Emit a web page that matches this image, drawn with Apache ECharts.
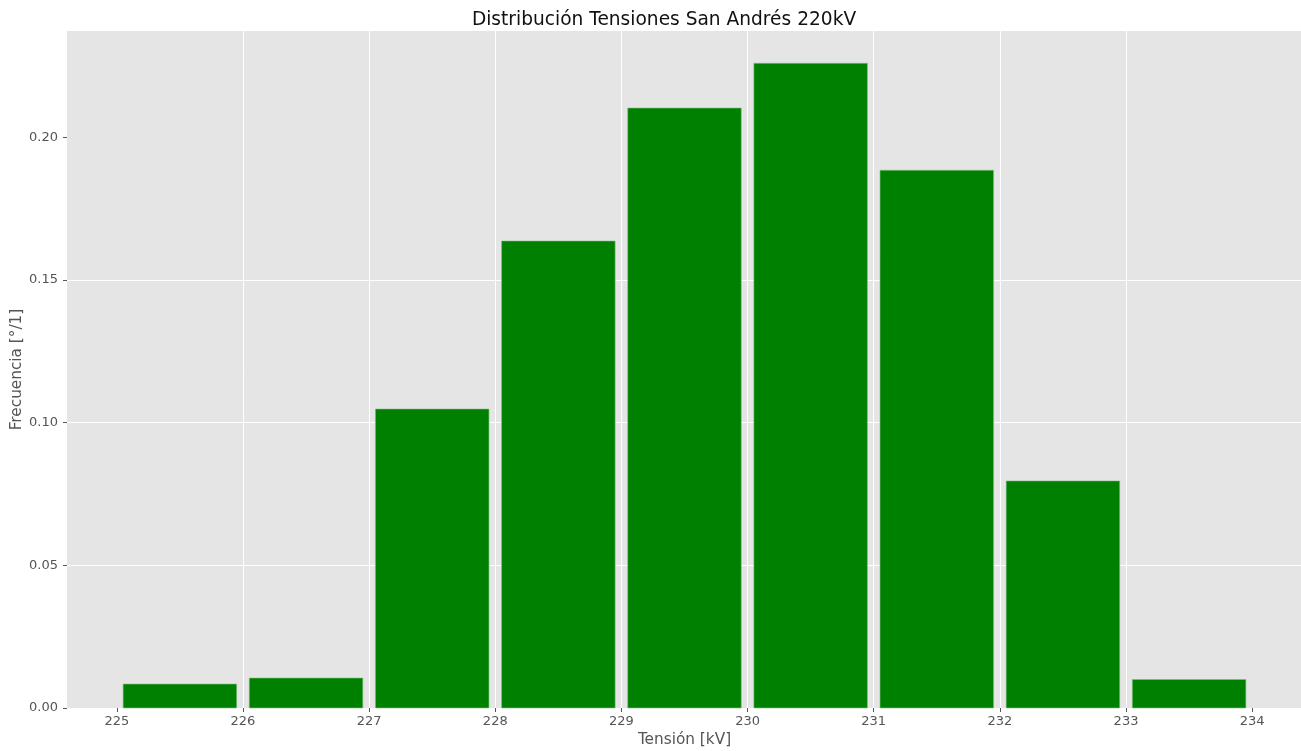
<!DOCTYPE html>
<html>
<head>
<meta charset="utf-8">
<script src="https://cdn.jsdelivr.net/npm/echarts@6/dist/echarts.min.js"></script>
<style>
html,body{margin:0;padding:0;background:#fff;}
#chart{width:1301px;height:751px;}
</style>
</head>
<body>
<div id="chart"></div>
<script>
// Data
const binStarts = [225, 226, 227, 228, 229, 230, 231, 232, 233];
const frequencies = [0.0084, 0.0105, 0.1048, 0.1637, 0.2103, 0.2260, 0.1885, 0.0796, 0.0100];
const xTicks = [225, 226, 227, 228, 229, 230, 231, 232, 233, 234];
const yTicks = [0, 0.05, 0.10, 0.15, 0.20];
const titleText = 'Distribución Tensiones San Andrés 220kV';
const xName = 'Tensión [kV]';
const yName = 'Frecuencia [°/1]';

const binWidth = 1, rwidth = 0.9;
const dataMin = binStarts[0] + (1 - rwidth) / 2 * binWidth;
const dataMax = binStarts[binStarts.length - 1] + binWidth - (1 - rwidth) / 2 * binWidth;
const pad = (dataMax - dataMin) * 0.05;
const yMax = Math.max(...frequencies) * 1.05;

const chart = echarts.init(document.getElementById('chart'));
const FONT = 'DejaVu Sans';
chart.setOption({
  animation: false,
  textStyle: {fontFamily: FONT},
  title: {
    text: titleText,
    left: 659, top: 6, textAlign: 'center',
    textStyle: {fontFamily: FONT, fontSize: 18.6, fontWeight: 'normal', color: '#111'}
  },
  grid: {left: 67, top: 31, width: 1235, bottom: 43, containLabel: false, outerBoundsMode: 'none',
         show: true, backgroundColor: '#E5E5E5', borderWidth: 0},
  xAxis: {
    type: 'value', min: dataMin - pad, max: dataMax + pad,
    name: xName, nameLocation: 'middle', nameGap: 25, nameMoveOverlap: false,
    nameTextStyle: {fontFamily: FONT, fontSize: 15.3, color: '#555'},
    axisLine: {show: false},
    axisTick: {show: true, length: 4, lineStyle: {color: '#555', width: 1}, customValues: xTicks},
    axisLabel: {customValues: xTicks, fontFamily: FONT, fontSize: 13, color: '#555', margin: 7,
                formatter: v => String(Math.round(v))},
    splitLine: {show: true, lineStyle: {color: '#fff', width: 1}, showMinLine: false, showMaxLine: false},
    interval: 1
  },
  yAxis: {
    type: 'value', min: 0, max: yMax, interval: 0.05,
    name: yName, nameLocation: 'middle', nameGap: 42, nameRotate: 90, nameMoveOverlap: false,
    nameTextStyle: {fontFamily: FONT, fontSize: 15.3, color: '#555'},
    axisLine: {show: false},
    axisTick: {show: true, length: 4, lineStyle: {color: '#555', width: 1}, customValues: yTicks},
    axisLabel: {customValues: yTicks, fontFamily: FONT, fontSize: 13, color: '#555', margin: 9,
                formatter: v => v.toFixed(2)},
    splitLine: {show: true, lineStyle: {color: '#fff', width: 1}, showMinLine: false, showMaxLine: false}
  },
  series: [{
    type: 'custom',
    data: binStarts.map((b, i) => [b, frequencies[i]]),
    renderItem: function (params, api) {
      const start = api.value(0), h = api.value(1);
      const off = (1 - rwidth) / 2 * binWidth;
      const p0 = api.coord([start + off, h]);
      const p1 = api.coord([start + binWidth - off, 0]);
      return {
        type: 'rect',
        shape: {x: p0[0], y: p0[1], width: p1[0] - p0[0], height: p1[1] - p0[1]},
        style: {fill: '#008000', stroke: '#7fbf7f', lineWidth: 0.6}
      };
    },
    encode: {x: 0, y: 1}
  }]
});
</script>
</body>
</html>
